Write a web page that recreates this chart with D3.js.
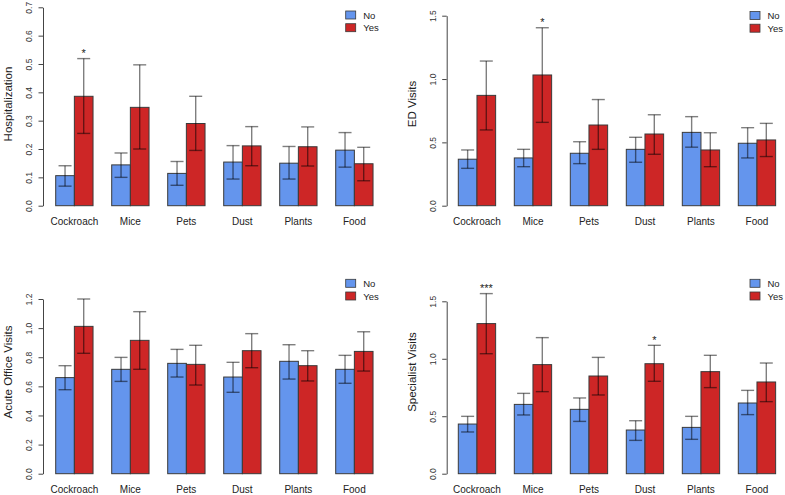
<!DOCTYPE html>
<html><head><meta charset="utf-8">
<script src="https://cdn.jsdelivr.net/npm/d3@7"></script>
<style>body{margin:0;background:#fff} svg{display:block;font-family:'Liberation Sans',Arial,Helvetica,sans-serif}</style>
</head><body><svg id="c" width="785" height="495"></svg>
<script>
const categories = ["Cockroach","Mice","Pets","Dust","Plants","Food"];
const groups = ["No","Yes"];

// Hospitalization
const hospNo    = [0.106,0.144,0.114,0.154,0.150,0.196];
const hospNoLo  = [0.069,0.100,0.072,0.094,0.094,0.136];
const hospNoHi  = [0.141,0.186,0.156,0.212,0.209,0.258];
const hospYes   = [0.386,0.347,0.290,0.211,0.208,0.148];
const hospYesLo = [0.255,0.200,0.195,0.141,0.140,0.088];
const hospYesHi = [0.519,0.497,0.386,0.279,0.278,0.206];
const hospStars = ["*","","","","",""];
const hospTicks = [0,0.1,0.2,0.3,0.4,0.5,0.6,0.7];

// ED Visits
const edNo    = [0.367,0.377,0.414,0.445,0.579,0.493];
const edNoLo  = [0.295,0.308,0.332,0.343,0.462,0.377];
const edNoHi  = [0.440,0.445,0.505,0.540,0.703,0.616];
const edYes   = [0.871,1.032,0.637,0.566,0.440,0.519];
const edYesLo = [0.598,0.658,0.445,0.406,0.308,0.388];
const edYesHi = [1.142,1.405,0.838,0.718,0.576,0.650];
const edStars = ["","*","","","",""];
const edTicks = [0,0.5,1.0,1.5];

// Acute Office Visits
const acuteNo    = [0.660,0.717,0.758,0.664,0.772,0.717];
const acuteNoLo  = [0.577,0.634,0.664,0.559,0.650,0.621];
const acuteNoHi  = [0.742,0.799,0.854,0.765,0.886,0.813];
const acuteYes   = [1.012,0.916,0.751,0.845,0.742,0.840];
const acuteYesLo = [0.827,0.717,0.609,0.728,0.637,0.705];
const acuteYesHi = [1.200,1.113,0.882,0.962,0.845,0.975];
const acuteStars = ["","","","","",""];
const acuteTicks = [0,0.2,0.4,0.6,0.8,1.0,1.2];

// Specialist Visits
const specNo    = [0.432,0.603,0.560,0.380,0.403,0.615];
const specNoLo  = [0.363,0.511,0.455,0.290,0.299,0.514];
const specNoHi  = [0.499,0.699,0.659,0.461,0.499,0.725];
const specYes   = [1.306,0.949,0.850,0.957,0.888,0.798];
const specYesLo = [1.044,0.714,0.685,0.804,0.749,0.627];
const specYesHi = [1.567,1.184,1.012,1.117,1.030,0.963];
const specStars = ["***","","","*","",""];
const specTicks = [0,0.5,1.0,1.5];

const colors = {No:"#6495ED", Yes:"#CD2626"};

const panels = [
  {label:"Hospitalization", no:hospNo, noLo:hospNoLo, noHi:hospNoHi, yes:hospYes, yesLo:hospYesLo, yesHi:hospYesHi, stars:hospStars, ticks:hospTicks,
   axisX:43, barX:55.7, y0:205.7, yTop:7.3, xLabY:225, yLabX:12.3, yLabY:104, legX:345.7, legY:15},
  {label:"ED Visits", no:edNo, noLo:edNoLo, noHi:edNoHi, yes:edYes, yesLo:edYesLo, yesHi:edYesHi, stars:edStars, ticks:edTicks,
   axisX:446.7, barX:458.3, y0:205.7, yTop:15.7, xLabY:225, yLabX:415.7, yLabY:104, legX:750, legY:15.5},
  {label:"Acute Office Visits", no:acuteNo, noLo:acuteNoLo, noHi:acuteNoHi, yes:acuteYes, yesLo:acuteYesLo, yesHi:acuteYesHi, stars:acuteStars, ticks:acuteTicks,
   axisX:43, barX:55.7, y0:473.7, yTop:299, xLabY:493, yLabX:12.3, yLabY:372, legX:345.7, legY:283.3},
  {label:"Specialist Visits", no:specNo, noLo:specNoLo, noHi:specNoHi, yes:specYes, yesLo:specYesLo, yesHi:specYesHi, stars:specStars, ticks:specTicks,
   axisX:446.7, barX:458.3, y0:473.7, yTop:301.3, xLabY:493, yLabX:415.7, yLabY:372, legX:750, legY:283.3}
];

const svg = d3.select("#c");
const step = 56;

panels.forEach(p => {
  const g = svg.append("g");
  const bw = step / 3;
  const x = d3.scaleBand().domain(categories)
    .range([p.barX - bw/2, p.barX - bw/2 + step*categories.length])
    .paddingInner(1/3).paddingOuter(1/6);
  const xs = d3.scaleBand().domain(groups).range([0, x.bandwidth()]);
  const yMax = p.ticks[p.ticks.length-1];
  const y = d3.scaleLinear().domain([0, yMax]).range([p.y0, p.yTop]);

  const rows = [];
  categories.forEach((c,i) => {
    rows.push({c, grp:"No", v:p.no[i], lo:p.noLo[i], hi:p.noHi[i], star:""});
    rows.push({c, grp:"Yes", v:p.yes[i], lo:p.yesLo[i], hi:p.yesHi[i], star:p.stars[i]});
  });

  // bars
  g.selectAll("rect.bar").data(rows).join("rect").attr("class","bar")
    .attr("x", d => x(d.c) + xs(d.grp))
    .attr("width", xs.bandwidth())
    .attr("y", d => y(d.v))
    .attr("height", d => y(0) - y(d.v))
    .attr("fill", d => colors[d.grp])
    .attr("stroke", "#3a3a3a").attr("stroke-width", 1);

  // error bars
  const eb = g.selectAll("g.eb").data(rows).join("g").attr("class","eb")
    .attr("stroke","rgba(0,0,0,0.5)").attr("stroke-width",1.4).attr("fill","none");
  const cx = d => x(d.c) + xs(d.grp) + xs.bandwidth()/2;
  const cap = 6.5;
  eb.append("line").attr("x1",cx).attr("x2",cx).attr("y1",d=>y(d.lo)).attr("y2",d=>y(d.hi));
  eb.append("line").attr("x1",d=>cx(d)-cap).attr("x2",d=>cx(d)+cap).attr("y1",d=>y(d.lo)).attr("y2",d=>y(d.lo));
  eb.append("line").attr("x1",d=>cx(d)-cap).attr("x2",d=>cx(d)+cap).attr("y1",d=>y(d.hi)).attr("y2",d=>y(d.hi));

  // stars
  g.selectAll("text.star").data(rows.filter(d => d.star)).join("text").attr("class","star")
    .attr("x", cx).attr("y", d => y(d.hi) - 1.5)
    .attr("text-anchor","middle").attr("font-size","11px").attr("fill","#222")
    .text(d => d.star);

  // y axis
  const ax = g.append("g").attr("transform", `translate(${p.axisX},0)`)
    .call(d3.axisLeft(y).tickValues(p.ticks).tickSizeOuter(0).tickSizeInner(4.5).tickFormat(d3.format(".1f")));
  ax.select(".domain").attr("stroke","#444");
  ax.selectAll(".tick line").attr("stroke","#444");
  ax.selectAll(".tick text")
    .attr("x", null).attr("dy", null)
    .attr("transform","translate(-10.7,0) rotate(-90)")
    .attr("text-anchor","middle")
    .attr("font-size","8.5px").attr("font-family","'Liberation Sans',Arial,sans-serif")
    .attr("fill","#333");

  // x labels
  g.selectAll("text.xl").data(categories).join("text").attr("class","xl")
    .attr("x", d => x(d) + x.bandwidth()/2).attr("y", p.xLabY)
    .attr("text-anchor","middle").attr("font-size","10px").attr("fill","#222")
    .text(d => d);

  // y label
  g.append("text")
    .attr("transform", `translate(${p.yLabX},${p.yLabY}) rotate(-90)`)
    .attr("text-anchor","middle").attr("font-size","11.5px").attr("fill","#222")
    .text(p.label);

  // legend
  const lg = g.append("g");
  groups.forEach((k,i) => {
    lg.append("rect").attr("x", p.legX).attr("y", p.legY - 4 + i*12.7)
      .attr("width",10).attr("height",8)
      .attr("fill", colors[k]).attr("stroke","#3a3a3a").attr("stroke-width",0.8);
    lg.append("text").attr("x", p.legX + 17.5).attr("y", p.legY + 3.5 + i*12.7)
      .attr("font-size","9.5px").attr("fill","#222").text(k);
  });
});
</script></body></html>
